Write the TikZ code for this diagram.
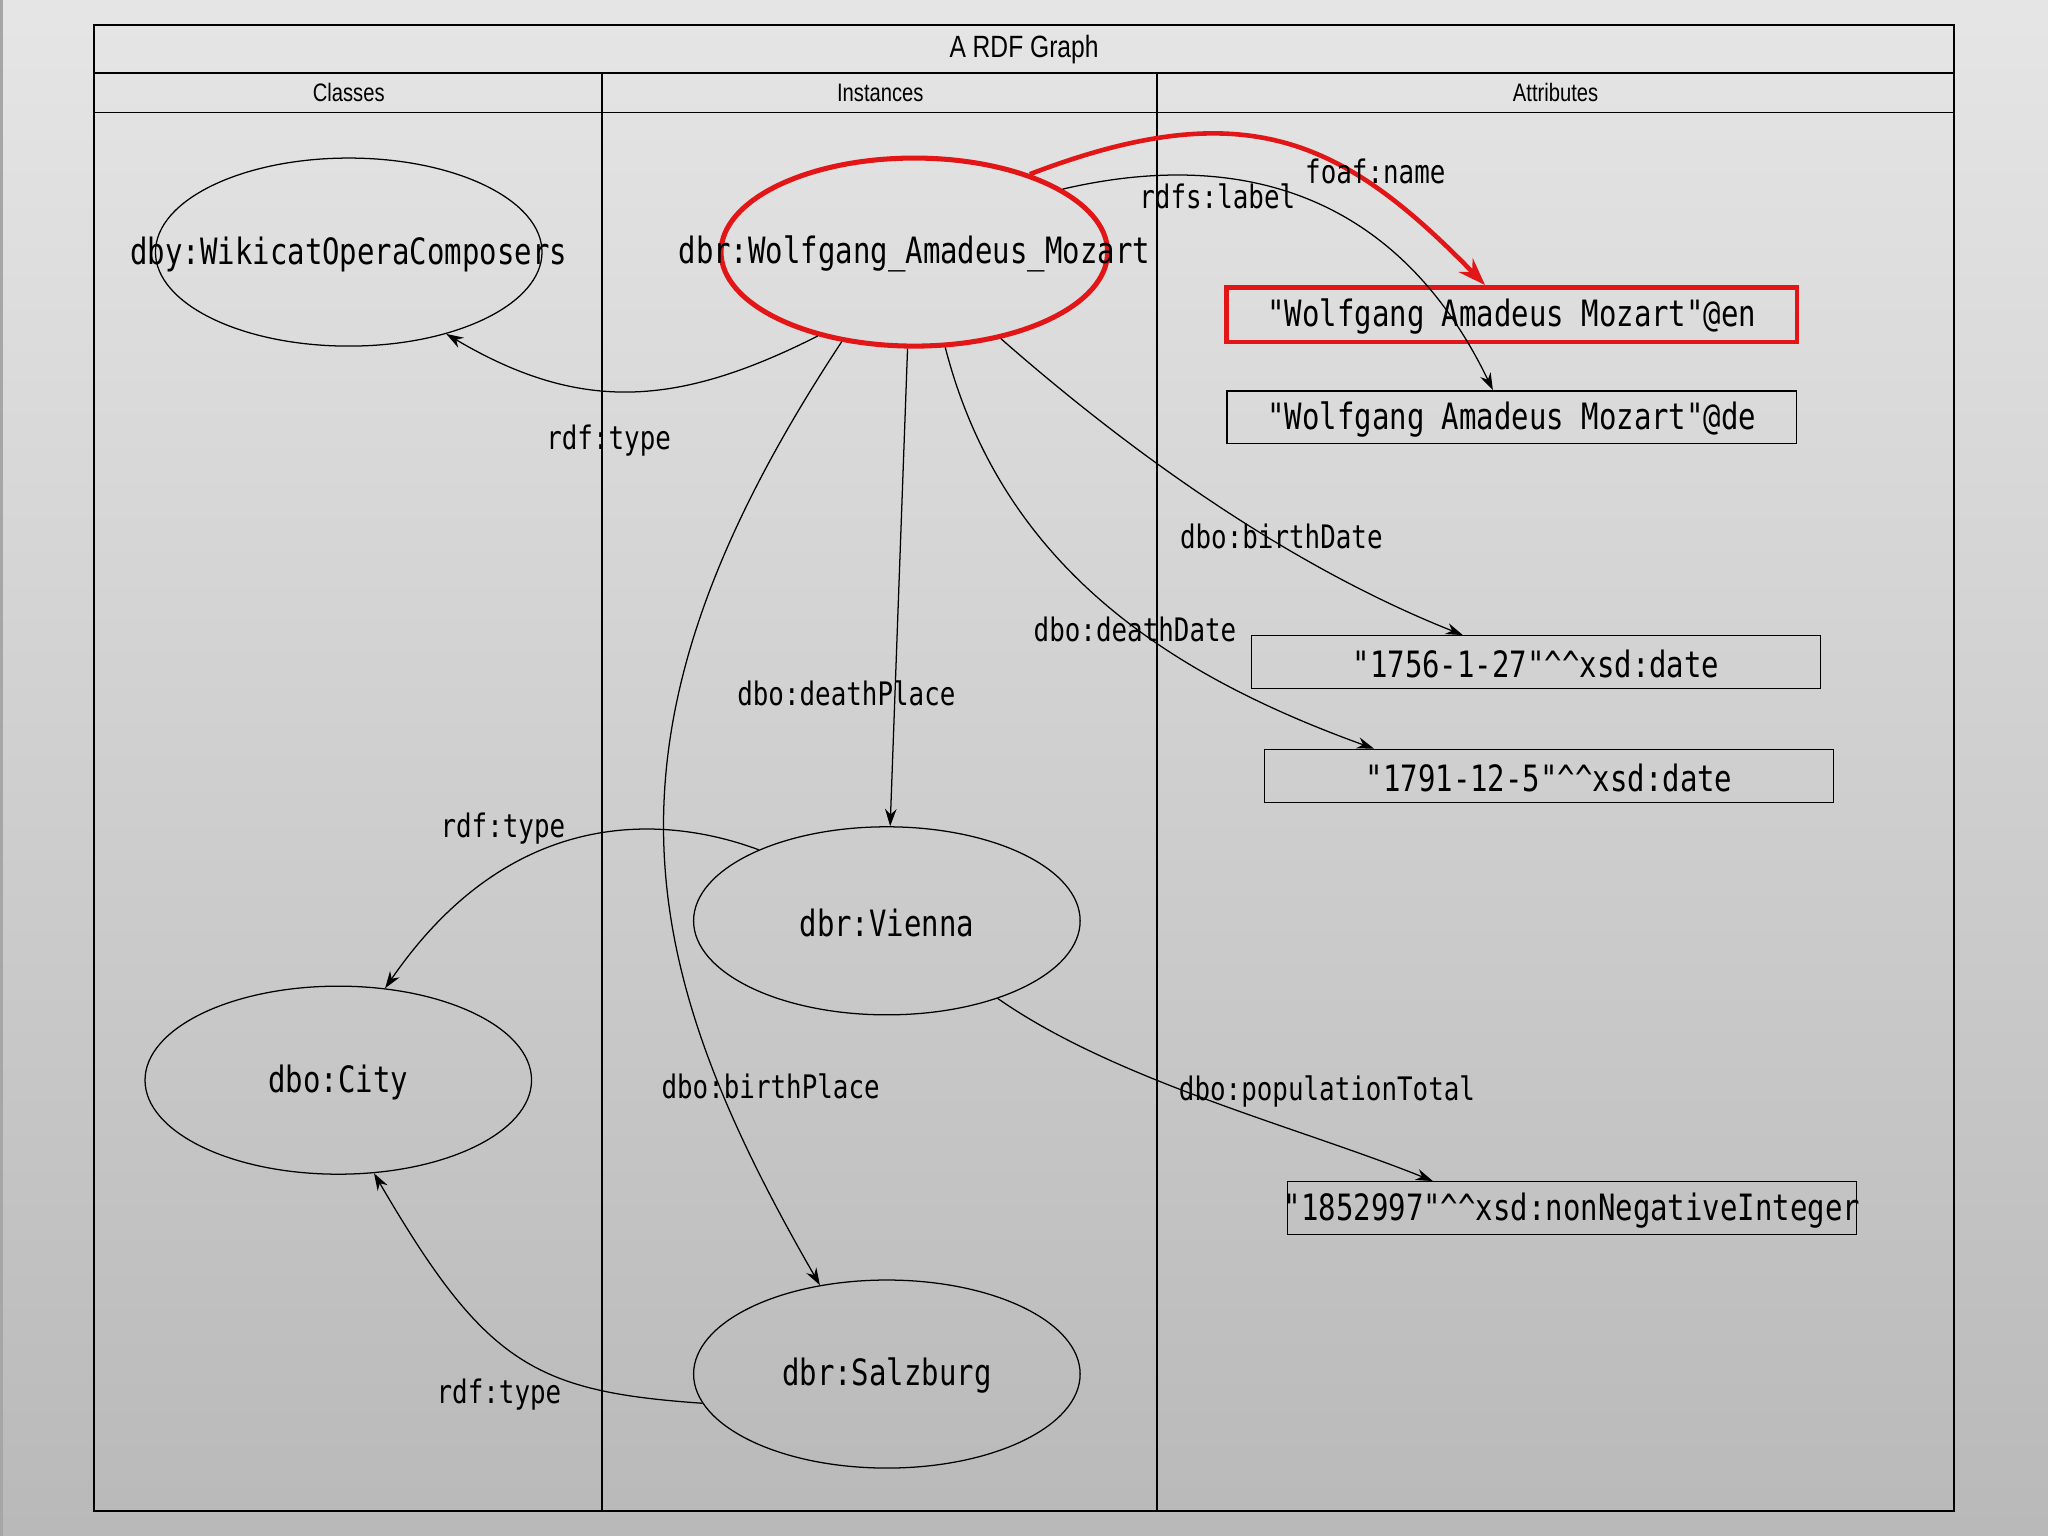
\documentclass[tikz,border=0pt]{standalone}
\usepackage{fontspec}
\newfontfamily\monof[FakeStretch=0.8]{DejaVu Sans Mono}
\newfontfamily\hdrf[FakeStretch=0.8]{Liberation Sans}
\usetikzlibrary{arrows.meta,shapes.geometric}
\definecolor{rdfred}{RGB}{226,22,22}
\begin{document}
\begin{tikzpicture}[x=0.02cm,y=-0.02cm,
  frame/.style={draw=black, line width=0.7pt},
  ell/.style={draw, ellipse, minimum width=5.92cm, minimum height=2.88cm, inner sep=0pt, line width=0.55pt},
  lit/.style={draw, rectangle, minimum width=8.72cm, minimum height=0.81cm, inner sep=0pt, line width=0.6pt},
  nodetxt/.style={font=\monof\fontsize{15.8}{18}\selectfont, yshift=-0.03cm},
  edgelbl/.style={font=\monof\fontsize{14.1}{16}\selectfont, inner sep=0pt},
  hdr/.style={font=\hdrf\fontsize{11}{13}\selectfont},
  edge/.style={draw, line width=0.55pt, -{Stealth[length=7.5pt,width=5pt]}},
  rededge/.style={draw=rdfred, line width=2pt, -{Stealth[length=12pt,width=8.5pt]}},
]
\useasboundingbox (0,0) rectangle (1568,1176);
\shade[top color=gray!20, bottom color=gray!55] (0,0) rectangle (1568,1176);
\fill[gray!70] (0,0) rectangle (2,1176);

% swimlane frame
\draw[frame] (72,19) rectangle (1496,1157);
\draw[frame] (72,56) -- (1496,56);
\draw[frame] (72,86) -- (1496,86);
\draw[frame] (461,56) -- (461,1157);
\draw[frame] (886,56) -- (886,1157);
\node[font=\hdrf\fontsize{13.4}{16}\selectfont] (title) at (784,38) {A RDF Graph};
\node[hdr] (hcls) at (267,71) {Classes};
\node[hdr] (hins) at (674,71) {Instances};
\node[hdr] (hatt) at (1191,71) {Attributes};

% resources
\node[ell, label={[nodetxt]center:dby:WikicatOperaComposers}] (wik) at (267,193) {};
\node[ell, draw=rdfred, line width=2.2pt, label={[nodetxt]center:dbr:Wolfgang\_Amadeus\_Mozart}] (moz) at (700,193) {};
\node[ell, label={[nodetxt]center:dbr:Vienna}] (vie) at (679,705) {};
\node[ell, label={[nodetxt]center:dbo:City}] (city) at (259,827) {};
\node[ell, label={[nodetxt]center:dbr:Salzburg}] (salz) at (679,1052) {};

% literals
\node[lit, draw=rdfred, line width=2pt, minimum width=8.74cm, minimum height=0.84cm,
  label={[nodetxt]center:"Wolfgang Amadeus Mozart"@en}] (en) at (1157.5,241) {};
\node[lit, label={[nodetxt]center:"Wolfgang Amadeus Mozart"@de}] (de) at (1157.5,319.5) {};
\node[lit, label={[nodetxt]center:"1756-1-27"\textasciicircum\textasciicircum xsd:date}] (d1756) at (1176,507) {};
\node[lit, label={[nodetxt]center:"1791-12-5"\textasciicircum\textasciicircum xsd:date}] (d1791) at (1186,594) {};
\node[lit, label={[nodetxt]center:"1852997"\textasciicircum\textasciicircum xsd:nonNegativeInteger}] (pop) at (1203.5,925) {};

% connectors
\draw[edge] (moz.221) .. controls +(-107,54) and +(103,61) .. (wik.320);
\draw[rededge] (moz.34) .. controls +(165,-63) and +(-109,-112) .. ([xshift=-0.41cm]en.north);
\draw[edge] (moz.23) .. controls +(133,-31) and +(-74,-153) .. ([xshift=-0.29cm]de.north);
\draw[edge] (moz.315) .. controls +(114,100) and +(-121,-48) .. ([xshift=-1.12cm]d1756.north);
\draw[edge] (moz.288) .. controls +(43,167) and +(-158,-57) .. ([xshift=-2.68cm]d1791.north);
\draw[edge] (moz.266) -- (vie.88);
\draw[edge] (moz.231) .. controls +(-196,297) and +(-144,-250) .. (salz.127);
\draw[edge] (vie.151) .. controls +(-67,-25) and +(99,-144) .. (city.63);
\draw[edge] (vie.325) .. controls +(90,63) and +(-102,-41) .. ([xshift=-2.13cm]pop.north);
\draw[edge] (salz.189) .. controls +(-129,-9) and +(85,146) .. (city.291);

% connector labels
\node[edgelbl] (l1) at (466,337) {rdf:type};
\node[edgelbl] (l2) at (1053,131) {foaf:name};
\node[edgelbl] (l3) at (932,150) {rdfs:label};
\node[edgelbl] (l4) at (981,411) {dbo:birthDate};
\node[edgelbl] (l5) at (869,482) {dbo:deathDate};
\node[edgelbl] (l6) at (648,531) {dbo:deathPlace};
\node[edgelbl] (l7) at (590,832) {dbo:birthPlace};
\node[edgelbl] (l8) at (385,634) {rdf:type};
\node[edgelbl] (l9) at (1016,836) {dbo:populationTotal};
\node[edgelbl] (l10) at (382,1068) {rdf:type};
\end{tikzpicture}
\end{document}
